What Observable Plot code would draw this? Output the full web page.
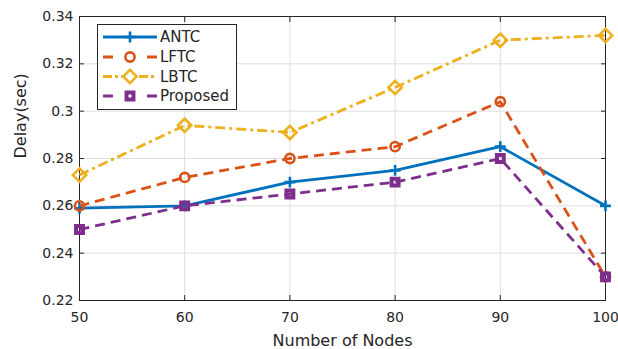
<!DOCTYPE html>
<html><head><meta charset="utf-8">
<script src="https://cdn.jsdelivr.net/npm/d3@7"></script>
<script src="https://cdn.jsdelivr.net/npm/@observablehq/plot@0.6"></script>
<style>body{margin:0;background:#fff} #chart{position:relative;width:618px;height:349px}</style>
</head><body><div id="chart"></div>
<script>
const nodes = [50, 60, 70, 80, 90, 100];
const seriesNames = ["ANTC", "LFTC", "LBTC", "Proposed"];
const antc = [0.259, 0.26, 0.27, 0.275, 0.285, 0.26];
const lftc = [0.26, 0.272, 0.28, 0.285, 0.304, 0.23];
const lbtc = [0.273, 0.294, 0.291, 0.31, 0.33, 0.332];
const proposed = [0.25, 0.26, 0.265, 0.27, 0.28, 0.23];
const xTicks = [50, 60, 70, 80, 90, 100];
const yTicks = [0.22, 0.24, 0.26, 0.28, 0.3, 0.32, 0.34];
const xLabel = "Number of Nodes";
const yLabel = "Delay(sec)";

// styles
const colors = ["#0072BD", "#D95319", "#EDB120", "#7E2F8E"];
const dashes = [null, "10,6", "10,4,3,4", "10,6"];
const symbols = ["plus", "circle", "diamond2", "square2"];
const d3Symbols = [d3.symbolPlus, d3.symbolCircle, d3.symbolDiamond2, d3.symbolSquare2];
const radii = [3.6, 4.6, 6.0, 4.4];
const markerStroke = [2.6, 2.6, 2.6, 4];
const font = "DejaVu Sans, Liberation Sans, sans-serif";

const values = [antc, lftc, lbtc, proposed];
const rows = [];
seriesNames.forEach((s, i) => nodes.forEach((n, j) => rows.push({series: s, idx: i, x: n, y: values[i][j]})));

const lineMarks = [];
seriesNames.forEach((s, i) => {
  const d = rows.filter(r => r.series === s);
  lineMarks.push(Plot.line(d, {x: "x", y: "y", stroke: colors[i], strokeWidth: 2.8,
    strokeDasharray: dashes[i] || undefined, strokeLinecap: "butt", strokeLinejoin: "round"}));
  lineMarks.push(Plot.dot(d, {x: "x", y: "y", symbol: () => symbols[i], r: radii[i],
    stroke: colors[i], strokeWidth: markerStroke[i], fill: "none"}));
});

const plot = Plot.plot({
  width: 618, height: 349,
  marginLeft: 79, marginRight: 13, marginTop: 16, marginBottom: 49,
  style: {fontFamily: font, background: "#fff", color: "#262626"},
  x: {domain: [50, 100]},
  y: {domain: [0.22, 0.34]},
  symbol: {type: "identity"},
  marks: [
    Plot.gridX(xTicks, {stroke: "#dedede", strokeOpacity: 1, strokeWidth: 1}),
    Plot.gridY(yTicks, {stroke: "#dedede", strokeOpacity: 1, strokeWidth: 1}),
    Plot.axisX(xTicks, {anchor: "bottom", tickSize: -5, tickFormat: () => "", label: null, stroke: "#262626"}),
    Plot.axisX(xTicks, {anchor: "top", tickSize: -5, tickFormat: () => "", label: null, stroke: "#262626"}),
    Plot.axisY(yTicks, {anchor: "left", tickSize: -5, tickFormat: () => "", label: null, stroke: "#262626"}),
    Plot.axisY(yTicks, {anchor: "right", tickSize: -5, tickFormat: () => "", label: null, stroke: "#262626"}),
    Plot.axisX(xTicks, {anchor: "bottom", tickSize: 0, tickPadding: 12, label: null, fontSize: 14, fill: "#262626"}),
    Plot.axisY(yTicks, {anchor: "left", tickSize: 0, tickPadding: 6, label: null, fontSize: 14, fill: "#262626",
      tickFormat: d => String(+d.toFixed(2))}),
    Plot.frame({stroke: "#262626", strokeWidth: 1}),
    ...lineMarks,
    Plot.text([yLabel], {frameAnchor: "left", text: d => d, rotate: -90, dx: -59, fontSize: 16, fill: "#262626"}),
    Plot.text([xLabel], {frameAnchor: "bottom", text: d => d, dy: 45, fontSize: 16, fill: "#262626"})
  ]
});
document.getElementById("chart").appendChild(plot);

// legend
const svg = d3.select(plot);
const lg = svg.append("g").attr("text-anchor", "start");
const box = {x: 97, y: 24, w: 139, h: 85};
lg.append("rect").attr("x", box.x + 0.5).attr("y", box.y + 0.5).attr("width", box.w).attr("height", box.h)
  .attr("fill", "#fff").attr("stroke", "#262626").attr("stroke-width", 1);
const rowY = [37, 57, 76.5, 96];
const legendDash = [null, "10,34,10", "9,3,3,3", "10,34,10"];
seriesNames.forEach((s, i) => {
  const y = rowY[i];
  lg.append("line").attr("x1", 103).attr("x2", 157).attr("y1", y).attr("y2", y)
    .attr("stroke", colors[i]).attr("stroke-width", 2.8)
    .attr("stroke-dasharray", legendDash[i]);
  if (i === 2) {
    lg.append("rect").attr("x", 122).attr("y", y - 8).attr("width", 16).attr("height", 16).attr("fill", "#fff");
  }
  lg.append("path").attr("transform", `translate(130,${y})`)
    .attr("d", d3.symbol(d3Symbols[i], Math.PI * radii[i] * radii[i])())
    .attr("fill", "none").attr("stroke", colors[i]).attr("stroke-width", markerStroke[i]);
  lg.append("text").attr("x", 160).attr("y", y).attr("dy", "0.36em").attr("text-anchor", "start")
    .attr("font-size", 15).attr("font-family", font).attr("fill", "#262626").text(s);
});
</script></body></html>
